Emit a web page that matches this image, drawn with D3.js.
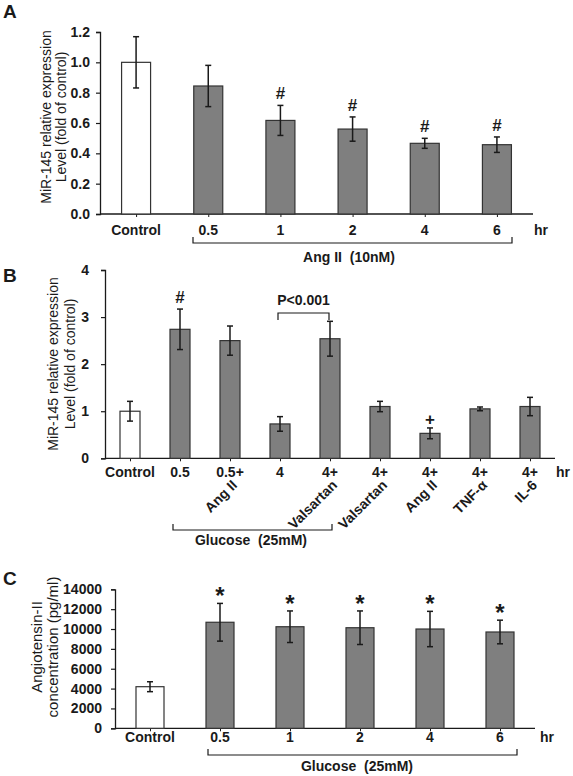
<!DOCTYPE html>
<html><head><meta charset="utf-8">
<script src="https://cdn.jsdelivr.net/npm/d3@7"></script>
<style>body{margin:0;background:#fff}svg{display:block;font-family:Arial,"Liberation Sans",sans-serif}</style>
</head><body>
<svg id="chart" width="573" height="776"></svg>
<script>
// ---------- data ----------
const catsA = ["Control","0.5","1","2","4","6"];
const valsA = [1.00,0.844,0.617,0.56,0.466,0.457];
const errA  = [0.169,0.136,0.099,0.08,0.033,0.051];
const markA = ["","","#","#","#","#"];
const ticksA = [0,0.2,0.4,0.6,0.8,1.0,1.2];

const catsB = ["Control","0.5","0.5+","4","4+","4+","4+","4+","4+"];
const subB  = ["","","Ang II","","Valsartan","Valsartan","Ang II","TNF-α","IL-6"];
const valsB = [1.00,2.74,2.50,0.73,2.54,1.10,0.53,1.05,1.10];
const errB  = [0.21,0.43,0.31,0.155,0.37,0.11,0.115,0.04,0.195];
const markB = ["","#","","","","","+","",""];
const ticksB = [0,1,2,3,4];

const catsC = ["Control","0.5","1","2","4","6"];
const valsC = [4190,10680,10230,10130,10000,9700];
const errC  = [500,1900,1590,1690,1780,1190];
const markC = ["","*","*","*","*","*"];
const ticksC = [0,2000,4000,6000,8000,10000,12000,14000];

const svg = d3.select("#chart");
const ink = "#1a1a1a";

function panel(o){
  const g = svg.append("g");
  const x = d3.scaleBand().domain(o.cats.map((d,i)=>i)).range(o.xr).paddingInner(0).paddingOuter(0);
  const y = d3.scaleLinear().domain([0, o.ticks[o.ticks.length-1]]).range(o.yr);
  const cx = i => x(i) + x.bandwidth()/2;

  // y axis
  const ya = d3.axisLeft(y).tickValues(o.ticks).tickFormat(o.fmt).tickSizeInner(4).tickSizeOuter(4).tickPadding(o.tickPad);
  const yg = g.append("g").attr("transform",`translate(${o.xr[0]},0)`).call(ya);
  yg.select(".domain").attr("stroke",ink).attr("stroke-width",1.3);
  yg.selectAll(".tick line").attr("stroke",ink).attr("stroke-width",1.2);
  yg.selectAll(".tick text").attr("font-size",14).attr("font-weight","bold").attr("fill",ink).attr("font-family","Arial, Liberation Sans, sans-serif");

  // x axis
  const xa = d3.axisBottom(d3.scalePoint().domain(o.cats.map((d,i)=>i)).range([cx(0),cx(o.cats.length-1)])).tickSize(3).tickFormat("");
  const xg = g.append("g").attr("transform",`translate(0,${o.yr[0]})`).call(xa);
  xg.select(".domain").remove();
  xg.selectAll(".tick line").attr("stroke",ink).attr("stroke-width",1);
  g.append("line").attr("x1",o.xr[0]).attr("x2",o.xr[1]).attr("y1",o.yr[0]).attr("y2",o.yr[0]).attr("stroke",ink).attr("stroke-width",1.3);

  // bars
  g.selectAll("rect.bar").data(o.vals).join("rect").attr("class","bar")
    .attr("x",(d,i)=>cx(i)-o.bw/2).attr("width",o.bw)
    .attr("y",d=>y(d)).attr("height",d=>y(0)-y(d))
    .attr("fill",(d,i)=>i===0?"#ffffff":"#7f7f7f").attr("stroke","#333").attr("stroke-width",1.2);

  // error bars
  const eb = g.selectAll("g.err").data(o.vals).join("g").attr("class","err");
  eb.append("line").attr("x1",(d,i)=>cx(i)).attr("x2",(d,i)=>cx(i))
    .attr("y1",(d,i)=>y(d+o.err[i])).attr("y2",(d,i)=>y(d-o.err[i])).attr("stroke",ink).attr("stroke-width",1.5);
  [1,-1].forEach(s=>{
    eb.append("line").attr("x1",(d,i)=>cx(i)-3).attr("x2",(d,i)=>cx(i)+3)
      .attr("y1",(d,i)=>y(d+s*o.err[i])).attr("y2",(d,i)=>y(d+s*o.err[i])).attr("stroke",ink).attr("stroke-width",1.5);
  });

  // markers
  g.selectAll("text.mark").data(o.marks).join("text").attr("class","mark")
    .attr("x",(d,i)=>cx(i)).attr("text-anchor","middle")
    .attr("y",(d,i)=>y(o.vals[i]+o.err[i]) + (d==="*"?1:(d==="+"?-3:-6)))
    .attr("font-size",d=>d==="*"?24:17).attr("font-weight","bold").attr("fill",ink)
    .text(d=>d);

  // x labels
  g.selectAll("text.xl").data(o.cats).join("text").attr("class","xl")
    .attr("x",(d,i)=>cx(i)).attr("y",o.labY).attr("text-anchor","middle")
    .attr("font-size",14).attr("font-weight","bold").attr("fill",ink).text(d=>d);
  if(o.sub){
    g.selectAll("text.sub").data(o.sub).join("text").attr("class","sub")
      .attr("transform",(d,i)=>`translate(${cx(i)+8},${o.labY+9}) rotate(-45)`)
      .attr("text-anchor","end").attr("font-size",14).attr("font-weight","bold").attr("fill",ink).text(d=>d);
  }
  g.append("text").attr("x",o.hrX).attr("y",o.labY).attr("text-anchor","middle")
    .attr("font-size",14).attr("font-weight","bold").attr("fill",ink).text("hr");

  // y title
  o.title.forEach((t,k)=>{
    g.append("text").attr("transform",`translate(${o.titleX[k]},${o.titleY}) rotate(-90)`)
      .attr("text-anchor","middle").attr("font-size",o.titleFs).attr("fill",ink).text(t);
  });

  // panel letter
  g.append("text").attr("x",3).attr("y",o.letterY).attr("font-size",19).attr("font-weight","bold").attr("fill",ink).text(o.letter);

  // group bracket
  const b = o.bracket;
  g.append("path").attr("d",`M${b.x1},${b.y-6}V${b.y}H${b.x2}V${b.y-6}`).attr("fill","none").attr("stroke",ink).attr("stroke-width",1.2);
  g.append("text").attr("x",b.tx).attr("y",b.ty).attr("text-anchor","middle").attr("font-size",14).attr("font-weight","bold").attr("fill",ink)
    .attr("xml:space","preserve").style("white-space","pre").text(b.text);
  return {g,x,y,cx};
}

panel({cats:catsA, vals:valsA, err:errA, marks:markA, ticks:ticksA, fmt:d3.format(".1f"),
  xr:[100,533], yr:[214,32], bw:29, tickPad:6, labY:235, hrX:541,
  title:["MiR-145 relative expression","Level (fold of control)"], titleX:[51,66], titleY:117, titleFs:14,
  letter:"A", letterY:18,
  bracket:{x1:193,x2:512,y:243,text:"Ang II  (10nM)",tx:349,ty:262}});

const pB = panel({cats:catsB, sub:subB, vals:valsB, err:errB, marks:markB, ticks:ticksB, fmt:d3.format("d"),
  xr:[105,555], yr:[458.3,270], bw:20, tickPad:12, labY:477, hrX:563,
  title:["MiR-145 relative expression","Level (fold of control)"], titleX:[58,75], titleY:364, titleFs:14,
  letter:"B", letterY:282,
  bracket:{x1:173,x2:332,y:530,text:"Glucose  (25mM)",tx:251,ty:545}});

// P<0.001 comparison bracket
{
  const y1 = 313, xa = pB.cx(3)-2, xb = pB.cx(4)-1;
  pB.g.append("path").attr("d",`M${xa},${y1+7}V${y1}H${xb}V${y1+7}`).attr("fill","none").attr("stroke",ink).attr("stroke-width",1.2);
  pB.g.append("text").attr("x",(xa+xb)/2).attr("y",305).attr("text-anchor","middle").attr("font-size",14).attr("font-weight","bold").attr("fill",ink).text("P<0.001");
}

panel({cats:catsC, vals:valsC, err:errC, marks:markC, ticks:ticksC, fmt:d3.format("d"),
  xr:[115,535], yr:[728.3,589.3], bw:28, tickPad:9, labY:742, hrX:547,
  title:["Angiotensin-II","concentration (pg/ml)"], titleX:[42,58], titleY:647, titleFs:15,
  letter:"C", letterY:585,
  bracket:{x1:208,x2:517,y:755,text:"Glucose  (25mM)",tx:357,ty:771}});
</script>
</body></html>
